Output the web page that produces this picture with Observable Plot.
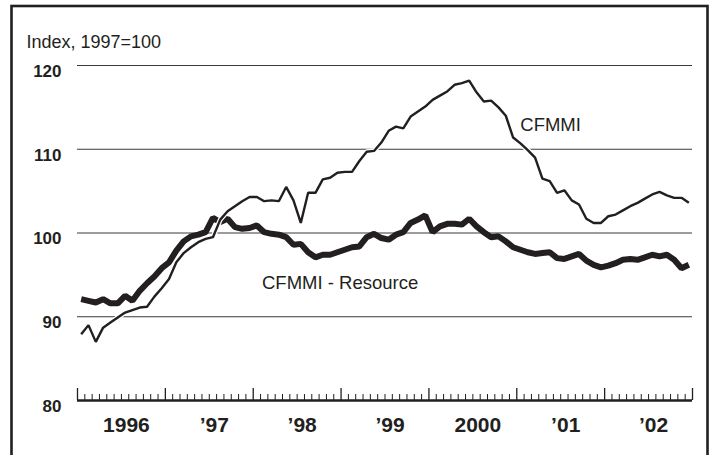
<!DOCTYPE html>
<html><head><meta charset="utf-8">
<script src="https://cdn.jsdelivr.net/npm/d3@7"></script>
<script src="https://cdn.jsdelivr.net/npm/@observablehq/plot@0.6"></script>
<style>
html,body{margin:0;padding:0;background:#fff;}
#chart{width:711px;height:455px;overflow:hidden}
svg{display:block}
</style></head><body><div id="chart"></div>
<script>
// Monthly values, Jan 1996 .. Dec 2002
const startYear = 1996;
const cfmmi = [
  87.9, 89.0, 87.0, 88.7, 89.3, 89.9, 90.5, 90.8, 91.1, 91.2, 92.4, 93.4,
  94.5, 96.5, 97.6, 98.3, 98.9, 99.3, 99.5, 101.6, 102.6, 103.2, 103.8, 104.3,
  104.3, 103.8, 103.9, 103.8, 105.5, 103.9, 101.2, 104.8, 104.8, 106.4, 106.6, 107.2,
  107.3, 107.3, 108.6, 109.7, 109.8, 110.8, 112.2, 112.7, 112.5, 113.9, 114.5, 115.1,
  115.9, 116.4, 116.9, 117.7, 117.9, 118.2, 116.8, 115.7, 115.8, 115.0, 114.0, 111.4,
  110.7, 109.9, 109.0, 106.5, 106.2, 104.8, 105.1, 103.9, 103.4, 101.7, 101.2, 101.2,
  102.0, 102.2, 102.7, 103.2, 103.6, 104.1, 104.6, 104.9, 104.5, 104.2, 104.2, 103.6
];
const cfmmiResource = [
  92.1, 91.9, 91.7, 92.1, 91.6, 91.6, 92.5, 91.9, 93.1, 94.0, 94.8, 95.8,
  96.5, 97.9, 99.0, 99.6, 99.8, 100.1, 101.8, 101.3, 101.7, 100.7, 100.5, 100.6,
  100.9, 100.1, 99.9, 99.8, 99.5, 98.6, 98.7, 97.7, 97.1, 97.4, 97.4, 97.7,
  98.0, 98.3, 98.4, 99.5, 99.9, 99.4, 99.2, 99.8, 100.1, 101.2, 101.6, 102.1,
  100.1, 100.8, 101.1, 101.1, 101.0, 101.7, 100.8, 100.1, 99.5, 99.6, 99.0, 98.3,
  98.0, 97.7, 97.5, 97.6, 97.7, 97.0, 96.9, 97.2, 97.5, 96.7, 96.2, 95.9,
  96.1, 96.4, 96.8, 96.9, 96.8, 97.1, 97.4, 97.2, 97.4, 96.8, 95.8, 96.2
];
const years = [1996, 1997, 1998, 1999, 2000, 2001, 2002];
const yearLabels = ["1996", "\u201997", "\u201998", "\u201999", "2000", "\u201901", "\u201902"];
const yTicks = [80, 90, 100, 110, 120];
const gridValues = [90, 100, 110, 120];
const yLabel = "Index, 1997=100";
const seriesNames = ["CFMMI", "CFMMI - Resource"];
// label anchor points in data coordinates (year, index value)
const labelAt = [[2001.04, 112.9], [1998.10, 94.05]];

const ink = "#231f20";
const font = "'Liberation Sans', Arial, Helvetica, sans-serif";
const t = d3.range(cfmmi.length).map(i => startYear + (i + 0.5) / 12);
const thin = t.map((x, i) => ({t: x, v: cfmmi[i]}));
const thick = t.map((x, i) => ({t: x, v: cfmmiResource[i]}));
const yearTicks = [...years, years[years.length - 1] + 1];
const minorTicks = d3.range(years[0] * 12, (years[years.length - 1] + 1) * 12).filter(m => m % 12).map(m => m / 12);
const labels = seriesNames.map((s, i) => ({text: s, x: labelAt[i][0], y: labelAt[i][1]}));

const plot = Plot.plot({
  width: 711, height: 455,
  marginLeft: 77, marginRight: 19, marginTop: 65, marginBottom: 55,
  x: {domain: [years[0], years[years.length - 1] + 1], axis: null},
  y: {domain: [80, 120], axis: null},
  style: {fontFamily: font, color: ink, background: "#fff", overflow: "visible"},
  marks: [
    Plot.ruleY(gridValues, {stroke: "#3a3a3a", strokeWidth: 1.2}),
    Plot.ruleX(minorTicks, {y1: 80, y2: 80, insetTop: -6, stroke: ink, strokeWidth: 1}),
    Plot.ruleX(yearTicks, {y1: 80, y2: 80, insetTop: -12, stroke: ink, strokeWidth: 1.3}),
    Plot.ruleY([80], {stroke: ink, strokeWidth: 2.6}),
    Plot.line(thick, {x: "t", y: "v", stroke: ink, strokeWidth: 6, strokeLinejoin: "miter", strokeLinecap: "butt"}),
    Plot.line(thin, {x: "t", y: "v", stroke: "#fff", strokeWidth: 5, strokeLinejoin: "miter"}),
    Plot.line(thin, {x: "t", y: "v", stroke: ink, strokeWidth: 2.4, strokeLinejoin: "miter", strokeLinecap: "butt"}),
    Plot.text(yTicks, {x: years[0], y: d => d, text: d => String(d), textAnchor: "end", dx: -16, dy: 6,
      fontSize: 17, fontWeight: "bold", fill: ink}),
    Plot.text(yearLabels, {x: (d, i) => years[i] + 0.5, y: 80, text: d => d, dx: 5, dy: 25,
      fontSize: 21, fontWeight: "bold", fontFamily: "'Liberation Sans Narrow', 'Arial Narrow', sans-serif", fill: ink}),
    Plot.text(labels, {x: "x", y: "y", text: "text", textAnchor: "start", fontSize: 18.5, fill: ink}),
    Plot.text([yLabel], {frameAnchor: "top-left", text: d => d, dx: -51, dy: -30.5, textAnchor: "start",
      fontSize: 18, fill: ink, style: "letter-spacing:0.4px"})
  ]
});

d3.select(plot).append("rect")
  .attr("x", 11.5).attr("y", 6).attr("width", 696).attr("height", 480)
  .attr("fill", "none").attr("stroke", ink).attr("stroke-width", 2.6);

document.getElementById("chart").appendChild(plot);
</script>
</body></html>
